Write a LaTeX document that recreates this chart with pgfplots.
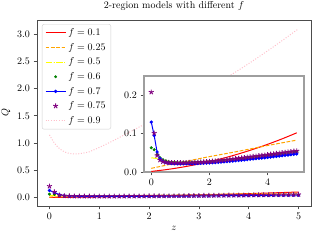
\documentclass[border=0pt]{standalone}
\usepackage{pgfplots}
\usepackage{pgfplotstable}
\pgfplotsset{compat=1.18}
\usetikzlibrary{plotmarks}
\definecolor{mplred}{HTML}{FF0000}
\definecolor{mplorange}{HTML}{FFA500}
\definecolor{mplyellow}{HTML}{FFFF00}
\definecolor{mplgreen}{HTML}{008000}
\definecolor{mplblue}{HTML}{0000FF}
\definecolor{mplpurple}{HTML}{800080}
\definecolor{mplpink}{HTML}{FFC0CB}

\pgfplotstableread{
z g b p
0.0 0.063 0.130 0.208
0.1 0.058 0.095 0.101
0.2 0.046 0.052 0.043
0.3 0.037 0.035 0.031
0.4 0.032 0.028 0.027
0.5 0.029 0.0250 0.0252
0.6 0.027 0.0232 0.0245
0.7 0.026 0.0222 0.0241
0.8 0.0255 0.0216 0.0239
0.9 0.0252 0.0213 0.0239
1.0 0.0250 0.0212 0.0240
1.1 0.0250 0.0212 0.0241
1.2 0.0251 0.0213 0.0243
1.3 0.0252 0.0214 0.0245
1.4 0.0253 0.0216 0.0247
1.5 0.0255 0.0218 0.0250
1.6 0.0258 0.0221 0.0254
1.7 0.0261 0.0224 0.0258
1.8 0.0265 0.0227 0.0262
1.9 0.0268 0.0231 0.0267
2.0 0.0272 0.0235 0.0272
2.1 0.0279 0.0241 0.0279
2.2 0.0285 0.0247 0.0287
2.3 0.0292 0.0253 0.0294
2.4 0.0298 0.0259 0.0302
2.5 0.0305 0.0265 0.0310
2.6 0.0313 0.0272 0.0319
2.7 0.0321 0.0279 0.0328
2.8 0.0329 0.0286 0.0337
2.9 0.0337 0.0293 0.0346
3.0 0.0345 0.0300 0.0355
3.1 0.0354 0.0308 0.0364
3.2 0.0363 0.0316 0.0374
3.3 0.0372 0.0324 0.0383
3.4 0.0381 0.0332 0.0393
3.5 0.0390 0.0340 0.0402
3.6 0.0399 0.0348 0.0412
3.7 0.0409 0.0356 0.0421
3.8 0.0418 0.0364 0.0431
3.9 0.0428 0.0372 0.0440
4.0 0.0437 0.0380 0.0450
4.1 0.0447 0.0389 0.0460
4.2 0.0456 0.0398 0.0470
4.3 0.0466 0.0407 0.0480
4.4 0.0475 0.0416 0.0490
4.5 0.0485 0.0425 0.0500
4.6 0.0495 0.0434 0.0510
4.7 0.0505 0.0443 0.0520
4.8 0.0515 0.0452 0.0530
4.9 0.0525 0.0461 0.0540
5.0 0.0535 0.0470 0.0550
}\markdata

\pgfplotstableread{
z r o
0.0 0.0015 0.0095
0.5 0.0060 0.0175
1.0 0.0118 0.0250
1.5 0.0188 0.0325
2.0 0.0270 0.0400
2.5 0.0364 0.0470
3.0 0.0471 0.0540
3.5 0.0590 0.0615
4.0 0.0721 0.0690
4.5 0.0864 0.0760
5.0 0.1020 0.0830
}\linedata

\pgfplotstableread{
z y
0.0 0.037
0.2 0.035
0.4 0.031
0.6 0.028
0.8 0.0265
1.0 0.0260
1.5 0.0265
2.0 0.0285
2.5 0.0315
3.0 0.0355
3.5 0.0400
4.0 0.0447
4.5 0.0497
5.0 0.0550
}\yellowdata

\pgfplotstableread{
z q
0.0 1.15
0.1 1.00
0.2 0.90
0.3 0.84
0.4 0.81
0.5 0.80
0.6 0.805
0.7 0.82
0.8 0.84
0.9 0.88
1.0 0.92
1.25 1.03
1.5 1.15
1.75 1.27
2.0 1.39
2.5 1.64
3.0 1.90
3.5 2.17
4.0 2.46
4.5 2.77
5.0 3.10
}\pinkdata

\pgfplotsset{
  sred/.style={color=mplred, draw=mplred, line width=1pt, no marks, smooth},
  sorange/.style={color=mplorange, draw=mplorange, line width=1pt, no marks, smooth, dash pattern=on 3.7pt off 1.6pt},
  syellow/.style={color=mplyellow, draw=mplyellow, line width=1pt, no marks, smooth, dash pattern=on 6.4pt off 1.6pt on 1pt off 1.6pt},
  sgreen/.style={color=mplgreen, draw=mplgreen, only marks, mark=*, mark size=1.3pt, mark options={draw=mplgreen, fill=mplgreen}},
  sblue/.style={color=mplblue, draw=mplblue, line width=1pt, mark=*, mark size=1.1pt, mark options={draw=mplblue, fill=mplblue}},
  spurple/.style={color=mplpurple, draw=mplpurple, only marks, mark=star, mark size=2.6pt, mark options={draw=mplpurple, fill=mplpurple, line width=0.9pt}},
  spink/.style={color=mplpink, draw=mplpink, line width=1pt, no marks, smooth, dash pattern=on 1pt off 1.65pt},
  mystyle/.style={
    scale only axis,
    anchor=south west,
    tick align=outside,
    xtick pos=left, ytick pos=left,
    major tick length=3.5pt,
    tick style={black!70, line width=0.8pt},
    ticklabel style={font=\normalsize},
  },
}

\begin{document}
\begin{tikzpicture}
\path[use as bounding box] (0pt,0pt) rectangle (320pt,240pt);
\begin{axis}[mystyle,
  at={(37pt,34pt)}, width=274pt, height=186pt,
  xmin=-0.25, xmax=5.25, ymin=-0.155, ymax=3.26,
  xtick={0,1,2,3,4,5},
  ytick={0,0.5,1,1.5,2,2.5,3},
  yticklabel style={/pgf/number format/.cd, fixed, fixed zerofill, precision=1},
  axis line style={black!70, line width=0.8pt},
  title={2-region models with different $f$},
  xlabel={$z$}, ylabel={$Q$},
  legend cell align=left,
  legend image code/.code={\draw[mark repeat=2,mark phase=2,#1] plot coordinates {(0pt,0pt) (10pt,0pt) (20pt,0pt)};},
  legend style={at={(0.018,0.978)}, anchor=north west, draw=black!18, rounded corners=2pt,
    fill=white, nodes={inner sep=2.3pt}, row sep=1.6pt, font=\normalsize},
]
\addplot[sred] table[x=z,y=r] {\linedata};
\addlegendentry{$f=0.1$}
\addplot[sorange] table[x=z,y=o] {\linedata};
\addlegendentry{$f=0.25$}
\addplot[syellow] table[x=z,y=y] {\yellowdata};
\addlegendentry{$f=0.5$}
\addplot[sgreen] table[x=z,y=g] {\markdata};
\addlegendentry{$f=0.6$}
\addplot[sblue] table[x=z,y=b] {\markdata};
\addlegendentry{$f=0.7$}
\addplot[spurple] table[x=z,y=p] {\markdata};
\addlegendentry{$f=0.75$}
\addplot[spink] table[x=z,y=q] {\pinkdata};
\addlegendentry{$f=0.9$}
\end{axis}
\begin{axis}[mystyle,
  at={(144pt,68pt)}, width=160pt, height=96pt,
  xmin=-0.25, xmax=5.25, ymin=0, ymax=0.25,
  xtick={0,2,4},
  ytick={0,0.1,0.2},
  yticklabel style={/pgf/number format/.cd, fixed, fixed zerofill, precision=1},
  axis background/.style={fill=white},
  axis line style={black!38, line width=1.2pt},
]
\addplot[sred] table[x=z,y=r] {\linedata};
\addplot[sorange] table[x=z,y=o] {\linedata};
\addplot[syellow] table[x=z,y=y] {\yellowdata};
\addplot[sgreen] table[x=z,y=g] {\markdata};
\addplot[sblue] table[x=z,y=b] {\markdata};
\addplot[spurple] table[x=z,y=p] {\markdata};
\end{axis}
\end{tikzpicture}
\end{document}
